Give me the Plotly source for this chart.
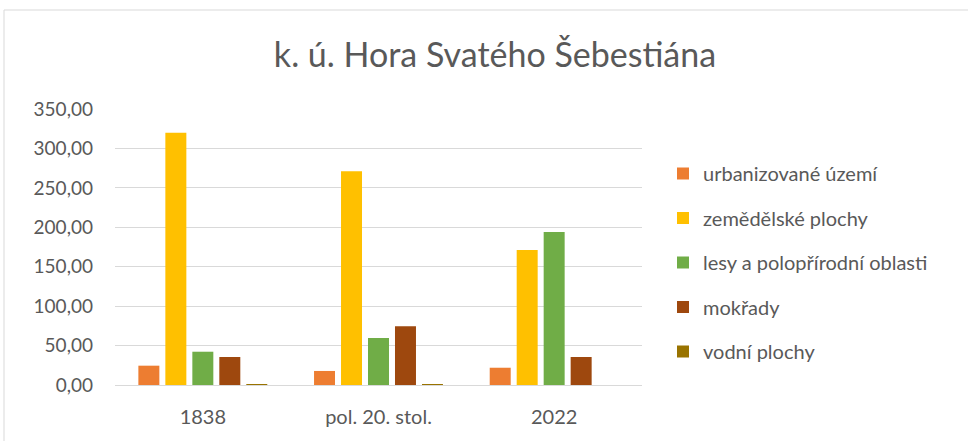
import plotly.graph_objects as go

# data
periods = ["1838", "pol. 20. stol.", "2022"]
urbanizovane = [24.5, 17.8, 21.9]
zemedelske = [320.0, 271.0, 171.2]
lesy = [42.2, 59.6, 194.0]
mokrady = [35.5, 74.4, 35.5]
vodni = [1.0, 1.0, 0.0]

series = [
    ("urbanizované území", urbanizovane, "#ED7D31"),
    ("zemědělské plochy", zemedelske, "#FFC000"),
    ("lesy a polopřírodní oblasti", lesy, "#70AD47"),
    ("mokřady", mokrady, "#9E480E"),
    ("vodní plochy", vodni, "#997300"),
]

fig = go.Figure()
for name, vals, color in series:
    fig.add_trace(go.Bar(
        x=periods, y=vals, name=name, legendgroup=name,
        marker=dict(color=color, line=dict(width=0)),
    ))

# plot area in pixels: left 115, right 642, top 109, bottom 385
W, H = 968, 441
L, R, T, B = 115, 326, 109, 56
pw = W - L - R
ph = H - T - B

def px_x(p):
    return (p - L) / pw

def px_y(p):
    return (H - B - p) / ph

FONT = "Lato, Carlito, sans-serif"
GREY = "#595959"

fig.update_layout(
    width=W, height=H,
    margin=dict(l=L, r=R, t=T, b=B),
    paper_bgcolor="white", plot_bgcolor="white",
    font=dict(family=FONT, size=19, color=GREY),
    separators=", ",
    barmode="group", bargap=0.232, bargroupgap=0.222,
    showlegend=True,
    title=dict(
        text="k. ú. Hora Svatého Šebestiána",
        x=495 / W, xref="container", xanchor="center",
        y=1 - 55 / H, yref="container", yanchor="middle",
        font=dict(size=34, color=GREY, family=FONT),
    ),
    legend=dict(
        x=px_x(663), xanchor="left",
        y=px_y(154), yanchor="top",
        font=dict(size=20, color=GREY),
        tracegroupgap=15.5, itemwidth=30,
        bgcolor="rgba(0,0,0,0)",
    ),
    xaxis=dict(
        showgrid=False, showline=False, zeroline=False,
        ticks="", ticklabelstandoff=18,
        tickfont=dict(size=20, color=GREY),
    ),
    yaxis=dict(
        range=[0, 350], dtick=50, tickformat=".2f",
        showgrid=True, gridcolor="#D9D9D9", gridwidth=1,
        zeroline=True, zerolinecolor="#D9D9D9", zerolinewidth=1,
        showline=False, ticks="", ticklabelstandoff=21,
        tickfont=dict(size=19, color=GREY),
    ),
    shapes=[
        dict(type="line", xref="paper", yref="paper",
             x0=px_x(4), x1=px_x(970), y0=px_y(10), y1=px_y(10),
             line=dict(color="#D9D9D9", width=1)),
        dict(type="line", xref="paper", yref="paper",
             x0=px_x(4), x1=px_x(4), y0=px_y(10), y1=px_y(445),
             line=dict(color="#D9D9D9", width=1)),
    ],
)

fig.write_html("out.html", config={"displayModeBar": False},
               post_script="document.body.style.margin='0px';")
